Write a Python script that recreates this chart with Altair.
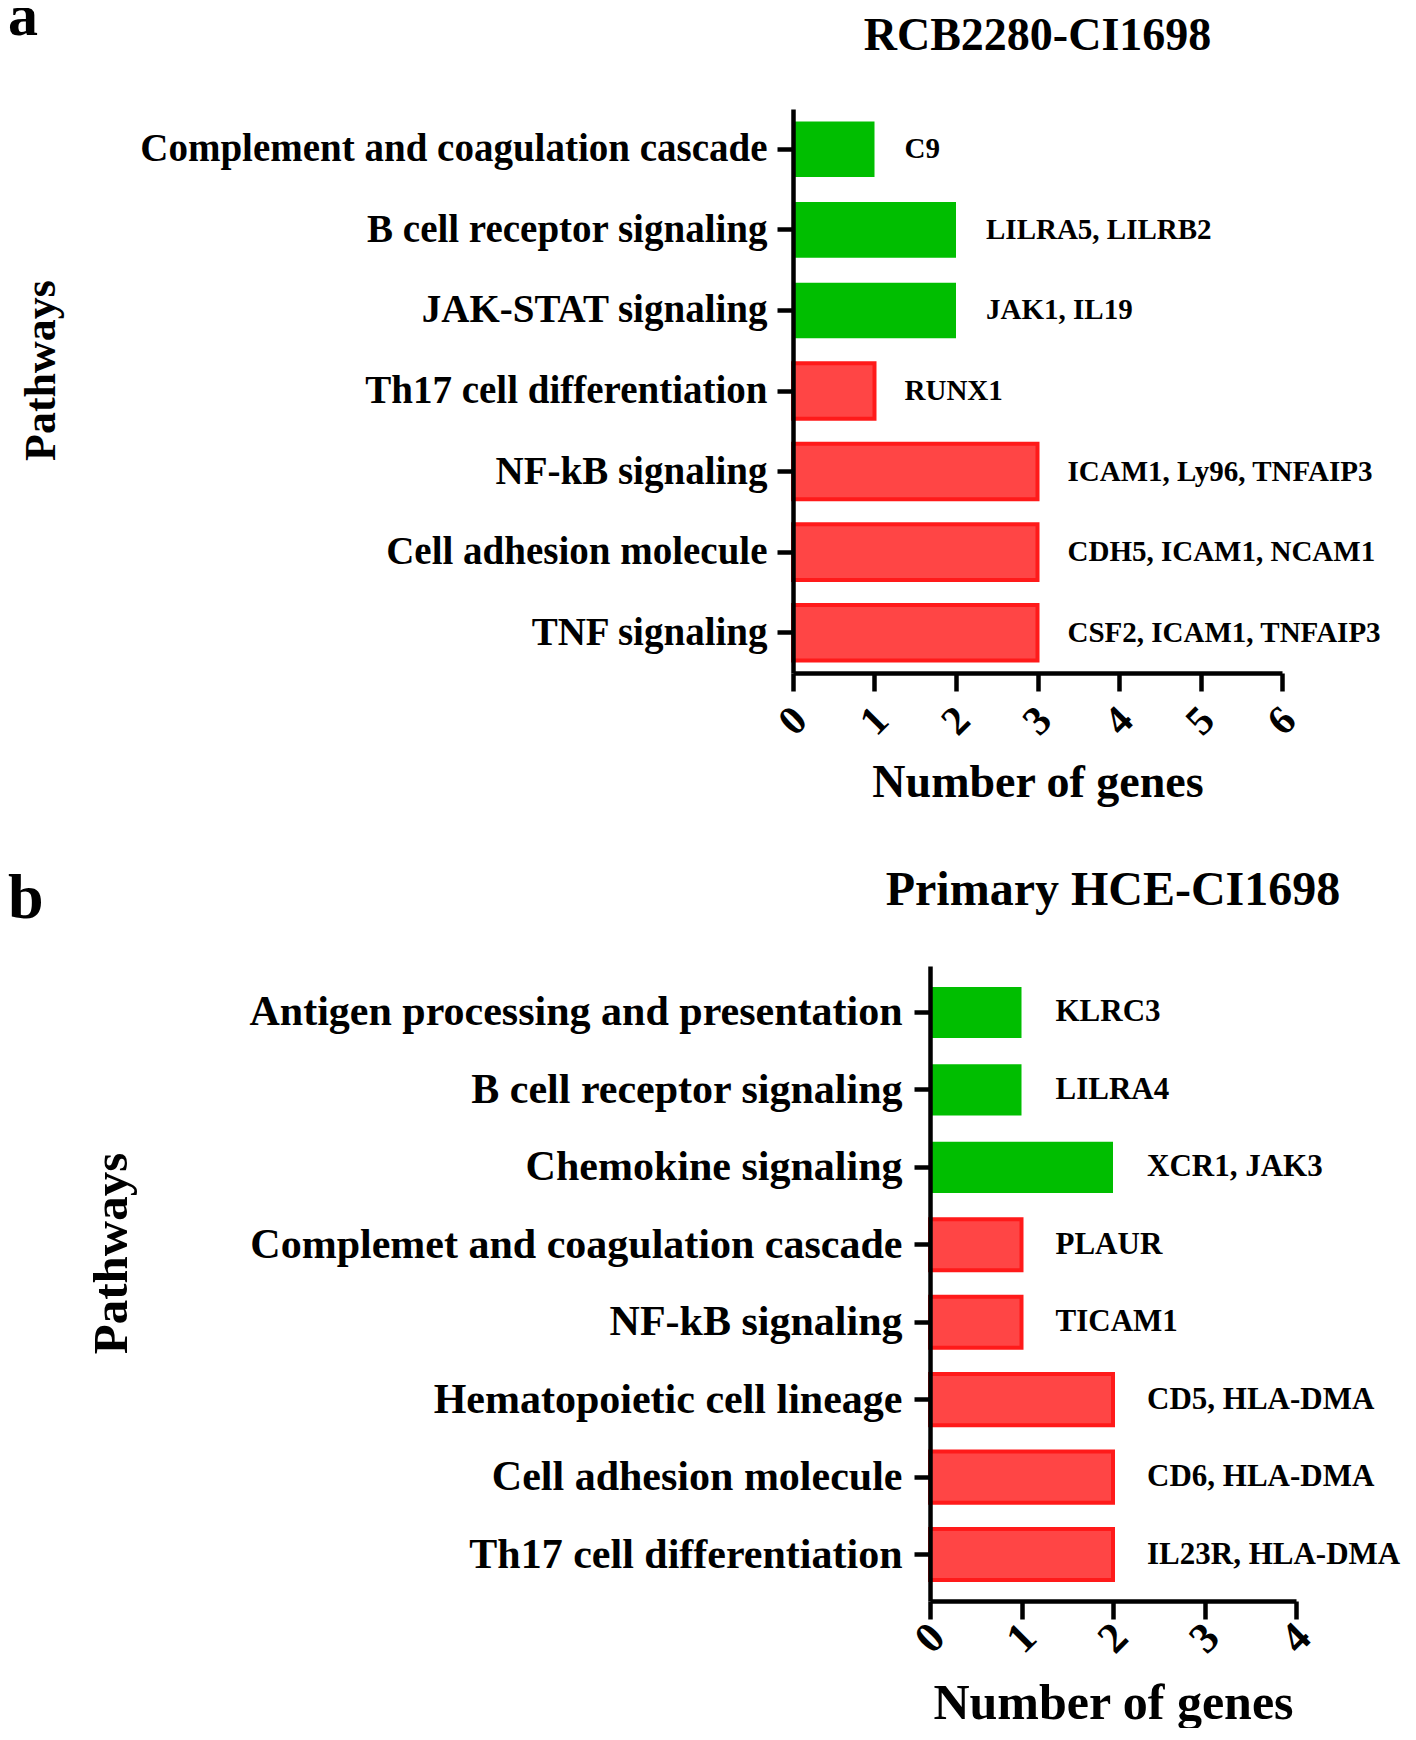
import altair as alt
import pandas as pd

FONT = "Liberation Serif"
GREEN = "#00BE00"
RED_FILL = "#FF4545"
RED_STROKE = "#FF1A1A"

# ---------------- Panel a data ----------------
a_pathways = [
    "Complement and coagulation cascade",
    "B cell receptor signaling",
    "JAK-STAT signaling",
    "Th17 cell differentiation",
    "NF-kB signaling",
    "Cell adhesion molecule",
    "TNF signaling",
]
a_counts = [1, 2, 2, 1, 3, 3, 3]
a_direction = ["down", "down", "down", "up", "up", "up", "up"]
a_genes = [
    "C9",
    "LILRA5, LILRB2",
    "JAK1, IL19",
    "RUNX1",
    "ICAM1, Ly96, TNFAIP3",
    "CDH5, ICAM1, NCAM1",
    "CSF2, ICAM1, TNFAIP3",
]
a_title = "RCB2280-CI1698"
a_ticks = [0, 1, 2, 3, 4, 5, 6]

# ---------------- Panel b data ----------------
b_pathways = [
    "Antigen processing and presentation",
    "B cell receptor signaling",
    "Chemokine signaling",
    "Complemet and coagulation cascade",
    "NF-kB signaling",
    "Hematopoietic cell lineage",
    "Cell adhesion molecule",
    "Th17 cell differentiation",
]
b_counts = [1, 1, 2, 1, 1, 2, 2, 2]
b_direction = ["down", "down", "down", "up", "up", "up", "up", "up"]
b_genes = [
    "KLRC3",
    "LILRA4",
    "XCR1, JAK3",
    "PLAUR",
    "TICAM1",
    "CD5, HLA-DMA",
    "CD6, HLA-DMA",
    "IL23R, HLA-DMA",
]
b_title = "Primary HCE-CI1698"
b_ticks = [0, 1, 2, 3, 4]


def panel(pathways, counts, direction, genes, letter, title, ticks, cfg):
    df = pd.DataFrame(
        {"pathway": pathways, "count": counts, "direction": direction, "genes": genes}
    )
    xmax = ticks[-1]
    shift = cfg["shift"]
    y_axis = alt.Axis(
        title="Pathways",
        offset=-shift,
        titleFont=FONT,
        titleFontSize=cfg["ytsize"],
        titleFontWeight="bold",
        titleColor="black",
        titleAngle=270,
        titleAlign="center",
        titleBaseline="middle",
        titleX=cfg["ytx"],
        titleY=cfg["yty"],
        labelFont=FONT,
        labelFontSize=cfg["ylsize"],
        labelFontWeight="bold",
        labelColor="black",
        labelLimit=2000,
        labelPadding=cfg["ylpad"],
        tickSize=16,
        tickWidth=4.5,
        tickColor="black",
        domainColor="black",
        domainWidth=4.5,
        zindex=1,
    )
    x_axis = alt.Axis(
        title="Number of genes",
        values=ticks,
        format="d",
        grid=False,
        labelAngle=315,
        labelAlign="center",
        labelBaseline="middle",
        labelPadding=cfg["xlpad"],
        labelFlush=False,
        labelOverlap=False,
        labelFont=FONT,
        labelFontSize=cfg["xlsize"],
        labelFontWeight="bold",
        labelColor="black",
        tickSize=18,
        tickWidth=4.5,
        tickColor="black",
        domainColor="black",
        domainWidth=4.5,
        titleFont=FONT,
        titleFontSize=cfg["xtsize"],
        titleFontWeight="bold",
        titleColor="black",
        titleY=cfg["xty"],
        titleBaseline="middle",
        zindex=1,
    )
    y = alt.Y(
        "pathway:N",
        sort=pathways,
        scale=alt.Scale(paddingInner=cfg["pi"], paddingOuter=cfg["po"]),
        axis=y_axis,
    )
    x = alt.X(
        "count:Q",
        scale=alt.Scale(
            domain=[0, xmax], nice=False, zero=True,
            range=[shift, shift + cfg["pw"]],
        ),
        axis=x_axis,
    )
    base = alt.Chart(df)
    bars = base.mark_bar().encode(
        x=x,
        y=y,
        color=alt.Color(
            "direction:N",
            scale=alt.Scale(domain=["down", "up"], range=[GREEN, RED_FILL]),
            legend=None,
        ),
        stroke=alt.Stroke(
            "direction:N",
            scale=alt.Scale(domain=["down", "up"], range=[GREEN, RED_STROKE]),
            legend=None,
        ),
        strokeWidth=alt.StrokeWidth(
            "direction:N",
            scale=alt.Scale(domain=["down", "up"], range=[0, 4]),
            legend=None,
        ),
    )
    gene_text = base.mark_text(
        align="left",
        baseline="middle",
        dx=cfg["gdx"],
        font=FONT,
        fontWeight="bold",
        fontSize=cfg["gsize"],
        color="black",
    ).encode(
        x=alt.X("count:Q"),
        y=alt.Y("pathway:N", sort=pathways),
        text="genes:N",
    )
    letter_layer = alt.Chart(pd.DataFrame({"t": [letter]})).mark_text(
        align="left",
        baseline="alphabetic",
        font=FONT,
        fontWeight="bold",
        fontSize=cfg["lsize"],
        color="black",
    ).encode(text="t:N", x=alt.value(cfg["lx"]), y=alt.value(cfg["ly"]))
    title_layer = alt.Chart(pd.DataFrame({"t": [title]})).mark_text(
        align="center",
        baseline="alphabetic",
        font=FONT,
        fontWeight="bold",
        fontSize=cfg["tsize"],
        color="black",
    ).encode(text="t:N", x=alt.value(shift + cfg["pw"] / 2), y=alt.value(cfg["ty"]))
    return alt.layer(bars, gene_text, letter_layer, title_layer).properties(
        width=cfg["w"], height=cfg["h"]
    )


cfg_a = dict(
    w=352, pw=489, shift=-137, h=564, pi=0.31, po=0.155,
    ytsize=44, ytx=-752, yty=261,
    ylsize=39, ylpad=10,
    xlsize=41, xlpad=30, xtsize=46, xty=109,
    gsize=29, gdx=30,
    lsize=60, lx=-922, ly=-74,
    tsize=46, ty=-59,
)
cfg_b = dict(
    w=366, pw=366, shift=0, h=635, pi=0.34, po=0.27,
    ytsize=49, ytx=-819, yty=287,
    ylsize=42, ylpad=12,
    xlsize=43, xlpad=19, xtsize=50, xty=102,
    gsize=31, gdx=34,
    lsize=64, lx=-922, ly=-48,
    tsize=48, ty=-61,
)

pa = panel(a_pathways, a_counts, a_direction, a_genes, "a", a_title, a_ticks, cfg_a)
pb = panel(b_pathways, b_counts, b_direction, b_genes, "b", b_title, b_ticks, cfg_b)

chart = alt.vconcat(
    pa, pb, spacing=62,
    padding={"left": 0, "top": -21, "right": -14, "bottom": 0},
).configure_view(stroke=None)

chart.save("out.html", embed_options={"renderer": "svg", "actions": False})
